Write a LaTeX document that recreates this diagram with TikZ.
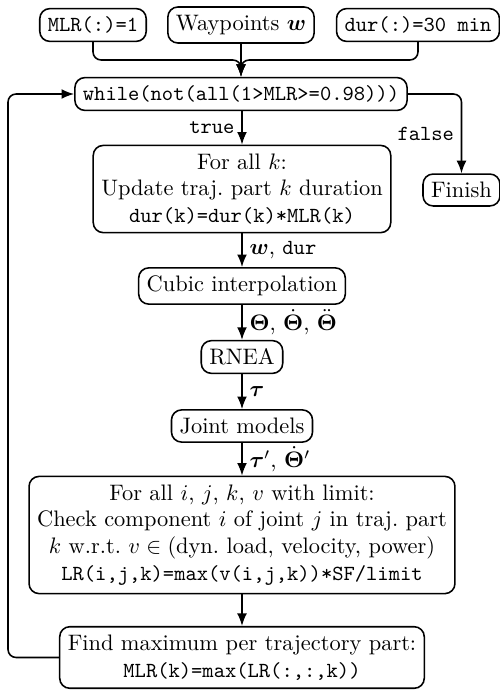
\documentclass[tikz,border=0pt]{standalone}
\usepackage{amsmath}
\usepackage{bm}
\usetikzlibrary{arrows.meta}
\newcommand{\tts}[1]{{\fontsize{9.6pt}{12pt}\selectfont\ttfamily #1}}
\begin{document}
\begin{tikzpicture}[x=0.4464pt,y=-0.4464pt,
  blk/.style={draw, line width=0.7pt, rounded corners=4.5pt, align=center, inner sep=3.6pt},
  arr/.style={line width=0.7pt, -{Latex[length=5.6pt,width=4.4pt]}},
  lbl/.style={inner sep=3pt},
  conn/.style={line width=0.7pt, rounded corners=3.6pt}]
\useasboundingbox (0,0) rectangle (500,691);

\node[blk] (mlr) at (93,25) {\tts{MLR(:)=1}};
\node[blk] (way) at (241,25) {Waypoints $\bm{w}$};
\node[blk] (dur0) at (418,25) {\tts{dur(:)=30 min}};

\node[blk] (while) at (241,94) {\tts{while(not(all(1>MLR>=0.98)))}};
\node[blk] (finish) at (461.5,190) {Finish};

\node[blk] (upd) at (242,189) {For all $k$:\\Update traj.\ part $k$ duration\\\tts{dur(k)=dur(k)*MLR(k)}};
\node[blk] (cubic) at (242,286) {Cubic interpolation};
\node[blk] (rnea) at (242,357) {RNEA};
\node[blk] (joint) at (242,426) {Joint models};
\node[blk] (check) at (242,535) {For all $i$, $j$, $k$, $v$ with limit:\\Check component $i$ of joint $j$ in traj.\ part\\$k$ w.r.t.\ $v\in{}$(dyn.\ load, velocity, power)\\\tts{LR(i,j,k)=max(v(i,j,k))*SF/limit}};
\node[blk] (find) at (242,657.5) {Find maximum per trajectory part:\\\tts{MLR(k)=max(LR(:,:,k))}};

\coordinate (merge) at (241,60);
\coordinate (fb) at (8,400);

\draw[conn,arr] (mlr.south) |- (merge) -- (while.north);
\draw[conn,arr] (dur0.south) |- (merge) -- (while.north);
\draw[arr] (way.south) -- (while.north);

\draw[arr] (while.south -| upd.north) -- node[lbl,left]{\tts{true}} (upd.north);
\draw[conn,arr] (while.east) -| node[lbl,left,pos=0.75]{\tts{false}} (finish.north);

\draw[arr] (upd.south) -- node[lbl,right]{$\bm{w}$, \tts{dur}} (cubic.north);
\draw[arr] (cubic.south) -- node[lbl,right]{$\bm{\Theta}$, $\dot{\bm{\Theta}}$, $\ddot{\bm{\Theta}}$} (rnea.north);
\draw[arr] (rnea.south) -- node[lbl,right]{$\bm{\tau}$} (joint.north);
\draw[arr] (joint.south) -- node[lbl,right]{$\bm{\tau}'$, $\dot{\bm{\Theta}}'$} (check.north);
\draw[arr] (check.south) -- (find.north);

\draw[conn,arr] (find.west) -| (fb) |- (while.west);
\end{tikzpicture}
\end{document}
